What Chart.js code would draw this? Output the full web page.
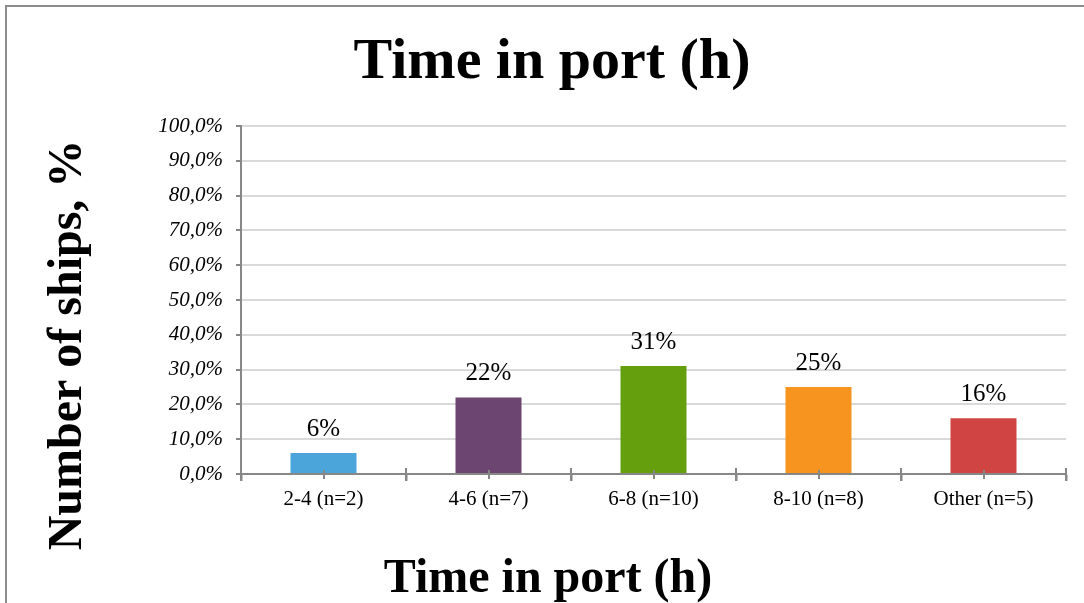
<!DOCTYPE html>
<html>
<head>
<meta charset="utf-8">
<title>Time in port (h)</title>
<script src="https://cdn.jsdelivr.net/npm/chart.js@4/dist/chart.umd.min.js"></script>
<style>
  html, body { margin: 0; padding: 0; background: #ffffff; }
  #wrap { position: relative; width: 1084px; height: 603px; }
</style>
</head>
<body>
<div id="wrap"><canvas id="chart"></canvas></div>
<script>
// Share of ships by time spent in port
const categories = ['2-4 (n=2)', '4-6 (n=7)', '6-8 (n=10)', '8-10 (n=8)', 'Other (n=5)'];
const sharePercent = [6, 22, 31, 25, 16];
const barColors = ['#4BA5DB', '#6D4571', '#659F0E', '#F6941F', '#D14444'];
const chartTitle = 'Time in port (h)';
const xAxisTitle = 'Time in port (h)';
const yAxisTitle = 'Number of ships, %';

const SERIF = "'Liberation Serif', 'Times New Roman', serif";
const AXIS_GRAY = '#878787';

// Frame, axis titles, value labels and the extra tick marks on the category axis
const decorations = {
  id: 'decorations',
  beforeDraw(chart) {
    const ctx = chart.ctx;
    ctx.save();
    ctx.fillStyle = '#ffffff';
    ctx.fillRect(0, 0, chart.width, chart.height);
    ctx.strokeStyle = '#8c8c8c';
    ctx.lineWidth = 2;
    ctx.beginPath();
    ctx.moveTo(6, chart.height);
    ctx.lineTo(6, 6);
    ctx.lineTo(chart.width, 6);
    ctx.stroke();
    ctx.restore();
  },
  afterDraw(chart) {
    const ctx = chart.ctx;
    const x = chart.scales.x;
    const area = chart.chartArea;
    ctx.save();

    // category axis: boundary ticks and centre ticks crossing the axis line
    ctx.strokeStyle = AXIS_GRAY;
    ctx.lineWidth = 2;
    const n = categories.length;
    const step = (x.getPixelForValue(1) - x.getPixelForValue(0));
    for (let i = 0; i <= n; i++) {
      const px = Math.round(x.getPixelForValue(i) - step / 2);
      ctx.beginPath();
      ctx.moveTo(px, area.bottom - 6);
      ctx.lineTo(px, area.bottom + 7);
      ctx.stroke();
    }
    for (let i = 0; i < n; i++) {
      const px = Math.round(x.getPixelForValue(i));
      ctx.beginPath();
      ctx.moveTo(px, area.bottom - 4);
      ctx.lineTo(px, area.bottom + 5);
      ctx.stroke();
    }

    // value labels above the bars
    ctx.fillStyle = '#000000';
    ctx.font = '25px ' + SERIF;
    ctx.textAlign = 'center';
    ctx.textBaseline = 'alphabetic';
    const meta = chart.getDatasetMeta(0);
    meta.data.forEach((bar, i) => {
      ctx.fillText(sharePercent[i] + '%', bar.x, bar.y - 17);
    });

    // axis titles
    ctx.font = 'bold 48px ' + SERIF;
    ctx.textAlign = 'center';
    ctx.fillText(xAxisTitle, 548, 592);

    ctx.translate(81, 345);
    ctx.rotate(-Math.PI / 2);
    ctx.fillText(yAxisTitle, 0, 0);
    ctx.restore();
  }
};

new Chart(document.getElementById('chart'), {
  type: 'bar',
  data: {
    labels: categories,
    datasets: [{
      data: sharePercent,
      backgroundColor: barColors,
      borderWidth: 0,
      categoryPercentage: 1.0,
      barPercentage: 0.4
    }]
  },
  plugins: [decorations],
  options: {
    responsive: true,
    maintainAspectRatio: false,
    animation: false,
    devicePixelRatio: 1,
    layout: { padding: { left: 38, right: 18, top: 0, bottom: 0 } },
    plugins: {
      legend: { display: false },
      tooltip: { enabled: false },
      title: {
        display: true,
        text: chartTitle,
        color: '#000000',
        font: { family: SERIF, size: 58, weight: 'bold' },
        padding: { top: 28, bottom: 28.4 }
      }
    },
    scales: {
      x: {
        offset: true,
        grid: {
          display: true,
          offset: true,
          drawOnChartArea: false,
          tickLength: 7,
          tickColor: AXIS_GRAY,
          tickWidth: 2
        },
        border: { display: true, color: AXIS_GRAY, width: 2 },
        ticks: {
          color: '#000000',
          font: { family: SERIF, size: 21 },
          padding: 6,
          maxRotation: 0,
          autoSkip: false
        },
        afterFit(scale) { scale.height = 129; }
      },
      y: {
        min: 0,
        max: 100,
        grid: {
          color: '#d9d9d9',
          lineWidth: 2,
          tickLength: 5,
          tickColor: AXIS_GRAY,
          tickWidth: 2
        },
        border: { display: true, color: AXIS_GRAY, width: 2 },
        ticks: {
          stepSize: 10,
          color: '#000000',
          font: { family: SERIF, size: 21, style: 'italic' },
          padding: 13,
          callback: (v) => v.toFixed(1).replace('.', ',') + '%'
        },
        afterFit(scale) { scale.width = 203; }
      }
    }
  }
});
</script>
</body>
</html>
